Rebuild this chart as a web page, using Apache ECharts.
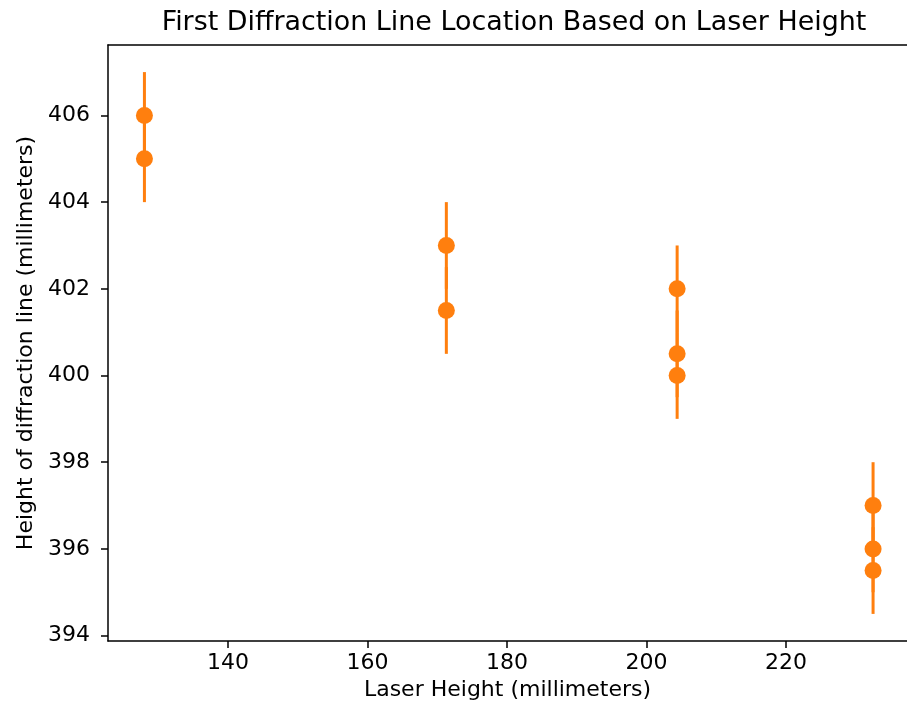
<!DOCTYPE html>
<html>
<head>
<meta charset="utf-8">
<script src="https://cdn.jsdelivr.net/npm/echarts@6/dist/echarts.min.js"></script>
<style>html,body{margin:0;padding:0;background:#fff;}#chart{width:907px;height:712px;}</style>
</head>
<body>
<div id="chart"></div>
<script>
const laserHeight = [128, 128, 171.3, 171.3, 204.4, 204.4, 204.4, 232.5, 232.5, 232.5];
const lineHeight  = [406, 405, 403, 401.5, 402, 400.5, 400, 397, 396, 395.5];
const lineError   = [1, 1, 1, 1, 1, 1, 1, 1, 1, 1];
const xTicks = [140, 160, 180, 200, 220];
const yTicks = [394, 396, 398, 400, 402, 404, 406];

const font = 'DejaVu Sans';
const orange = '#ff7f0e';
const xMin = 122.775, xMax = 237.366;

const pts = laserHeight.map((x, i) => [x, lineHeight[i]]);
const errData = laserHeight.map((x, i) => [x, lineHeight[i] - lineError[i], lineHeight[i] + lineError[i]]);

const chart = echarts.init(document.getElementById('chart'), null, {renderer: 'canvas'});
chart.setOption({
  animation: false,
  backgroundColor: '#fff',
  title: {
    text: 'First Diffraction Line Location Based on Laser Height',
    left: 509, top: 5, textAlign: 'center',
    textStyle: {fontFamily: font, fontSize: 26.9, fontWeight: 'normal', color: '#000'}
  },
  grid: {
    left: 108, top: 45, width: 799, height: 596, show: false
  },
  xAxis: [{
    type: 'value', min: xMin, max: xMax, position: 'bottom',
    name: 'Laser Height (millimeters)', nameLocation: 'middle', nameGap: 35,
    nameTextStyle: {fontFamily: font, fontSize: 22, color: '#000'},
    axisLine: {show: true, lineStyle: {color: '#000', width: 1.5}},
    axisTick: {show: true, inside: false, length: 7, lineStyle: {color: '#000', width: 1.5}, customValues: xTicks},
    axisLabel: {fontFamily: font, fontSize: 22, color: '#000', margin: 11, customValues: xTicks},
    splitLine: {show: false}
  }, {
    type: 'value', min: xMin, max: xMax, position: 'top',
    axisLine: {show: true, lineStyle: {color: '#000', width: 1.5}},
    axisTick: {show: false}, axisLabel: {show: false}, splitLine: {show: false}
  }],
  yAxis: {
    type: 'value', min: 393.875, max: 407.625,
    name: 'Height of diffraction line (millimeters)', nameLocation: 'middle', nameGap: 69, nameRotate: 90,
    nameTextStyle: {fontFamily: font, fontSize: 22, color: '#000'},
    axisLine: {show: true, lineStyle: {color: '#000', width: 1.5}},
    axisTick: {show: true, inside: false, length: 7, lineStyle: {color: '#000', width: 1.5}, customValues: yTicks},
    axisLabel: {fontFamily: font, fontSize: 22, color: '#000', margin: 18, customValues: yTicks},
    splitLine: {show: false}
  },
  series: [
    {
      type: 'custom',
      data: errData,
      renderItem: function (params, api) {
        const x = api.value(0);
        const p1 = api.coord([x, api.value(1)]);
        const p2 = api.coord([x, api.value(2)]);
        return {
          type: 'line',
          shape: {x1: p1[0], y1: p1[1], x2: p2[0], y2: p2[1]},
          style: {stroke: orange, lineWidth: 3}
        };
      },
      z: 2
    },
    {
      type: 'scatter',
      data: pts,
      symbol: 'circle',
      symbolSize: 17,
      itemStyle: {color: orange, opacity: 1},
      z: 3
    }
  ]
});
</script>
</body>
</html>
